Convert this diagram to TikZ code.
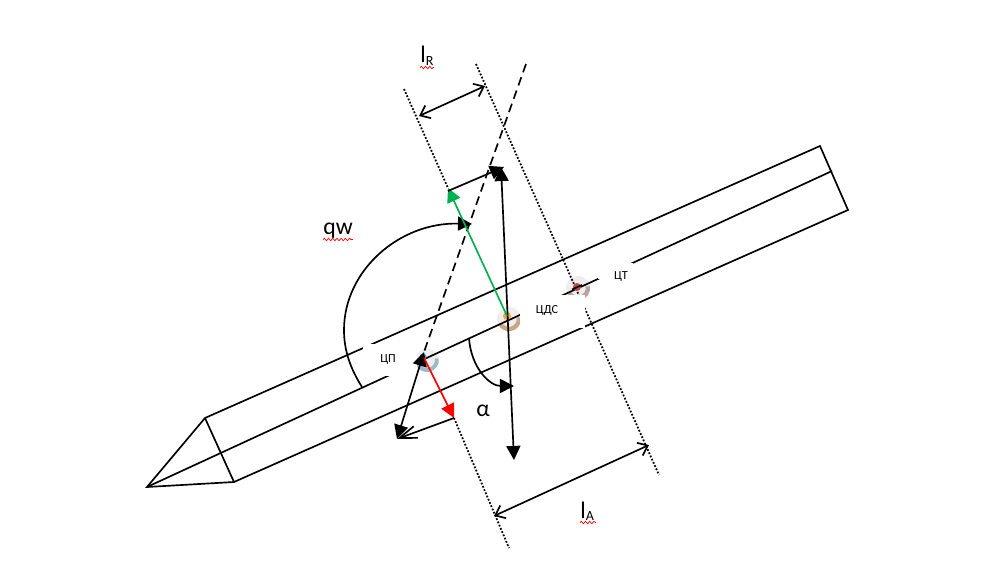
\documentclass[tikz,border=0pt]{standalone}
\usepackage{fontspec}
\setmainfont{Carlito}
\usetikzlibrary{arrows.meta,decorations.pathmorphing}
\definecolor{spotgrey}{HTML}{EFEDED}
\definecolor{rimblue}{HTML}{9DB9C4}
\definecolor{rimbrown}{HTML}{CBA582}
\definecolor{rimred}{HTML}{BBA0A0}
\definecolor{dotblue}{HTML}{3F9DB8}
\definecolor{dotorange}{HTML}{F0A24C}
\definecolor{dotred}{HTML}{B84C4C}
\definecolor{arrowgreen}{HTML}{00B050}
\tikzset{
  body/.style={line width=0.95pt},
  ticks/.style={line width=1pt, dash pattern=on 1pt off 1pt},
  force/.style={line width=0.95pt, -{Triangle[length=8pt,width=8pt]}},
  bothforce/.style={line width=0.95pt, {Triangle[length=8pt,width=8pt]}-{Triangle[length=8pt,width=8pt]}},
  span/.style={line width=0.95pt, {Straight Barb[length=5pt,width=8pt]}-{Straight Barb[length=5pt,width=8pt]}},
  big/.style={font=\fontsize{13.5}{14}\selectfont, inner sep=0pt},
  small/.style={font=\fontsize{7}{8}\selectfont, inner sep=0pt},
  wavy/.style={red, line width=0.4pt, decorate, decoration={snake, amplitude=0.7pt, segment length=2.4pt}}
}
\begin{document}
\begin{tikzpicture}[x=0.02cm, y=-0.02cm]
  \useasboundingbox (0,0) rectangle (998,588);

  % Points
  \coordinate (apex) at (147,487);
  \coordinate (baseA) at (205,418);
  \coordinate (baseB) at (234,482);
  \coordinate (endA) at (820,146);
  \coordinate (endB) at (848,210);
  \coordinate (endC) at (832,171);
  \coordinate (cp) at (424,358);
  \coordinate (cds) at (507,316);
  \coordinate (lrA) at (404,89);
  \coordinate (lrB) at (448,188);
  \coordinate (sideStart) at (448,191);
  \coordinate (sideEnd) at (504,167);
  \coordinate (ctA) at (476,64);
  \coordinate (ctB) at (659,475);
  \coordinate (lowA) at (454,418);
  \coordinate (lowB) at (509,548);
  \coordinate (axisTop) at (526,64);
  \coordinate (axisEnd) at (424,352);
  \coordinate (liftTop) at (501,167);
  \coordinate (liftEnd) at (514,460);
  \coordinate (normalEnd) at (397,439);

  % Spots
  \fill[spotgrey] (427,360) circle (11.5);
  \draw[rimblue, line width=2.2pt] (436.8,358.3) arc[start angle=-10, end angle=190, radius=10];
  \fill[spotgrey] (509,319) circle (12);
  \draw[rimbrown, line width=2.4pt] (518.8,317.3) arc[start angle=-10, end angle=150, radius=10];
  \fill[spotgrey] (578,288) circle (12);
  \draw[rimred, line width=2.4pt] (587.8,286.3) arc[start angle=-10, end angle=150, radius=10];

  % Body
  \draw[body] (apex) -- (baseA) -- (endA) -- (endB) -- (baseB) -- cycle;
  \draw[body] (baseA) -- (baseB);
  \draw[body] (apex) -- (endC);

  % Dotted lines
  \draw[ticks] (lrA) -- (lrB);
  \draw[ticks] (ctA) -- (ctB);
  \draw[ticks] (lowA) -- (lowB);

  % Gaps
  \fill[white] (363,344) rectangle (417,376);
  \fill[white] (520,295) rectangle (585,328);
  \fill[white] (598,263) rectangle (633,279);

  \fill[dotblue] (423,357) circle (3.5);
  \fill[dotorange] (507,316) circle (4);
  \fill[dotred] (577,287) circle (4);
  \draw[body] (572,289.5) -- (582,285);

  % Angles
  \draw[force] (362,387) .. controls (350,368) and (344,350) .. (344,330)
    .. controls (344,270) and (400,222) .. (472,224);
  \draw[force] (469,338) .. controls (471,368) and (490,386) .. (514,386);

  % Forces
  \draw[body, dash pattern=on 5pt off 3pt] (axisTop) -- (axisEnd);
  \draw[bothforce] (axisEnd) -- (normalEnd);
  \draw[bothforce] (liftTop) -- (liftEnd);
  \draw[force, arrowgreen] (cds) -- (lrB);
  \draw[force, red] (cp) -- (lowA);
  \draw[force] (sideStart) -- (sideEnd);
  \draw[body, -{Straight Barb[length=10pt,width=7pt]}] (lowA) -- (normalEnd);

  % Spans
  \draw[span] (419,116) -- (485,86);
  \draw[span] (494,516) -- (649,445);

  % Labels
  \node[big, anchor=base west] (lrtext) at (420,63) {l\raisebox{-1.7pt}{\fontsize{8}{8}\selectfont R}};
  \node[big, anchor=base west] (latext) at (580,518) {l\raisebox{-1.7pt}{\fontsize{8}{8}\selectfont A}};
  \node[big, anchor=base west] (qwtext) at (323,235) {qw};
  \node[big] (alphatext) at (483,411) {α};
  \node[small] (cptext) at (388,360) {ЦП};
  \node[small] (cdstext) at (547,310) {ЦДС};
  \node[small] (cttext) at (621,277) {ЦТ};
  \draw[wavy] (420,67.5) -- (434,67.5);
  \draw[wavy] (580,522.5) -- (596,522.5);
  \draw[wavy] (323,239.5) -- (353,239.5);
\end{tikzpicture}
\end{document}
